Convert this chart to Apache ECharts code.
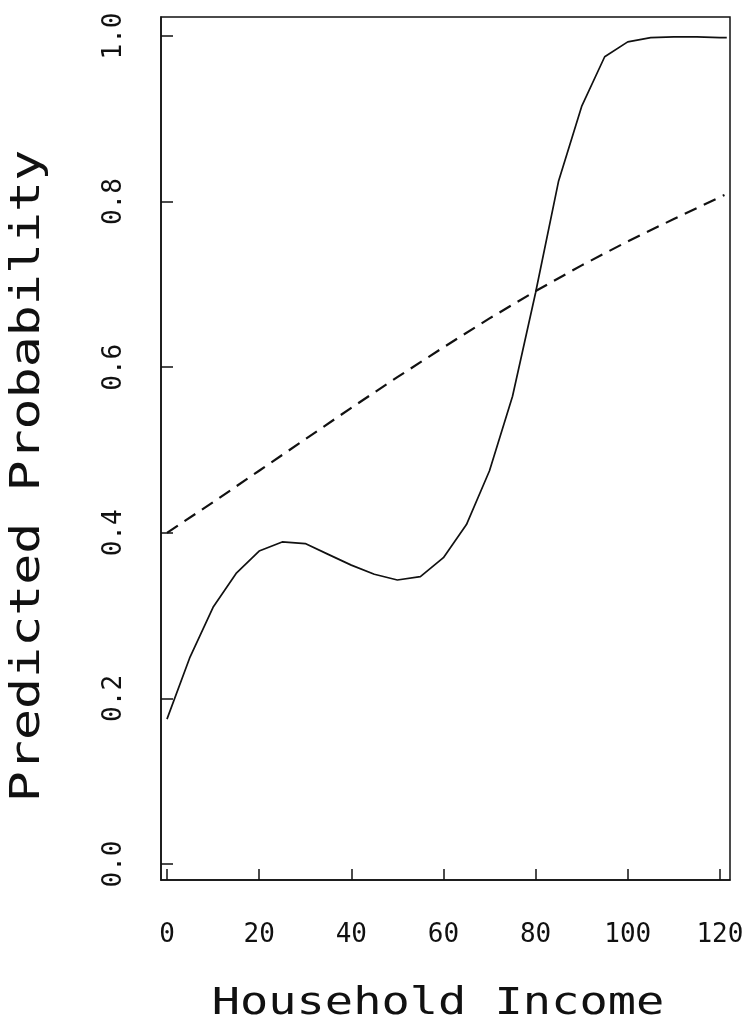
<!DOCTYPE html>
<html lang="en">
<head>
    <meta charset="utf-8">
    <title>Predicted Probability</title>
    <script type="text/javascript" src="https://cdn.jsdelivr.net/npm/echarts@6/dist/echarts.min.js"></script>
    <style type="text/css">
        html, body {
            margin: 0;
            padding: 0;
            background: #ffffff;
        }

        #main {
            width: 749px;
            height: 1032px;
        }
    </style>
</head>
<body>
<div id="main"></div>
<script type="text/javascript">
    // solid curve (flexible fit)
    var incomeSolid = [0, 5, 10, 15, 20, 25, 30, 35, 40, 45, 50, 55, 60, 65, 70, 75, 80, 85, 90, 95, 100, 105, 110, 115, 120, 121.5];
    var probSolid = [0.175, 0.250, 0.310, 0.351, 0.378, 0.389, 0.387, 0.374, 0.361, 0.350, 0.343, 0.347, 0.370, 0.410, 0.475, 0.565, 0.690, 0.825, 0.915, 0.975, 0.993, 0.998, 0.999, 0.999, 0.998, 0.998];
    // dashed curve (linear logit)
    var incomeDashed = [0, 10, 20, 30, 40, 50, 60, 70, 80, 90, 100, 110, 121];
    var probDashed = [0.400, 0.437, 0.475, 0.513, 0.551, 0.588, 0.624, 0.659, 0.692, 0.723, 0.752, 0.779, 0.808];

    var xTicks = [0, 20, 40, 60, 80, 100, 120];
    var yTicks = [0, 0.2, 0.4, 0.6, 0.8, 1.0];

    function pairs(xs, ys) {
        var out = [];
        for (var i = 0; i < xs.length; i++) {
            out.push([xs[i], ys[i]]);
        }
        return out;
    }

    var myChart = echarts.init(document.getElementById('main'));
    var ink = '#111111';
    var mono = '"DejaVu Sans Mono", "Liberation Mono", monospace';

    var option = {
        animation: false,
        backgroundColor: '#ffffff',
        grid: {
            left: 161,
            top: 17,
            right: 19,
            bottom: 152,
            show: true,
            borderColor: ink,
            borderWidth: 1.5
        },
        xAxis: {
            type: 'value',
            min: -1.3,
            max: 122.2,
            axisLine: {
                onZero: false,
                lineStyle: {color: ink, width: 1.5}
            },
            axisTick: {
                inside: true,
                length: 11,
                customValues: xTicks,
                lineStyle: {color: ink, width: 1.5}
            },
            axisLabel: {
                customValues: xTicks,
                margin: 42,
                fontSize: 26,
                fontFamily: mono,
                color: ink
            },
            splitLine: {show: false}
        },
        yAxis: {
            type: 'value',
            min: -0.0193,
            max: 1.023,
            axisLine: {
                onZero: false,
                lineStyle: {color: ink, width: 1.5}
            },
            axisTick: {
                inside: true,
                length: 12,
                customValues: yTicks,
                lineStyle: {color: ink, width: 1.5}
            },
            axisLabel: {
                customValues: yTicks,
                rotate: 90,
                margin: 34,
                fontSize: 26,
                fontFamily: mono,
                color: ink,
                formatter: function (v) {
                    return v.toFixed(1);
                }
            },
            splitLine: {show: false}
        },
        graphic: [{
            type: 'text',
            x: 438,
            y: 1004,
            scaleX: 1.27,
            style: {
                text: 'Household Income',
                x: 0,
                y: 0,
                fill: ink,
                fontSize: 37,
                fontFamily: mono,
                textAlign: 'center',
                textVerticalAlign: 'middle'
            }
        }, {
            type: 'text',
            x: 29,
            y: 476,
            rotation: Math.PI / 2,
            scaleX: 1.29,
            style: {
                text: 'Predicted Probability',
                x: 0,
                y: 0,
                fill: ink,
                fontSize: 40,
                fontFamily: mono,
                textAlign: 'center',
                textVerticalAlign: 'middle'
            }
        }],
        series: [{
            type: 'line',
            name: 'solid',
            data: pairs(incomeSolid, probSolid),
            showSymbol: false,
            smooth: false,
            lineStyle: {color: ink, width: 1.7}
        }, {
            type: 'line',
            name: 'dashed',
            data: pairs(incomeDashed, probDashed),
            showSymbol: false,
            smooth: false,
            lineStyle: {color: ink, width: 2.2, type: [13, 8]}
        }]
    };

    myChart.setOption(option);
</script>
</body>
</html>
